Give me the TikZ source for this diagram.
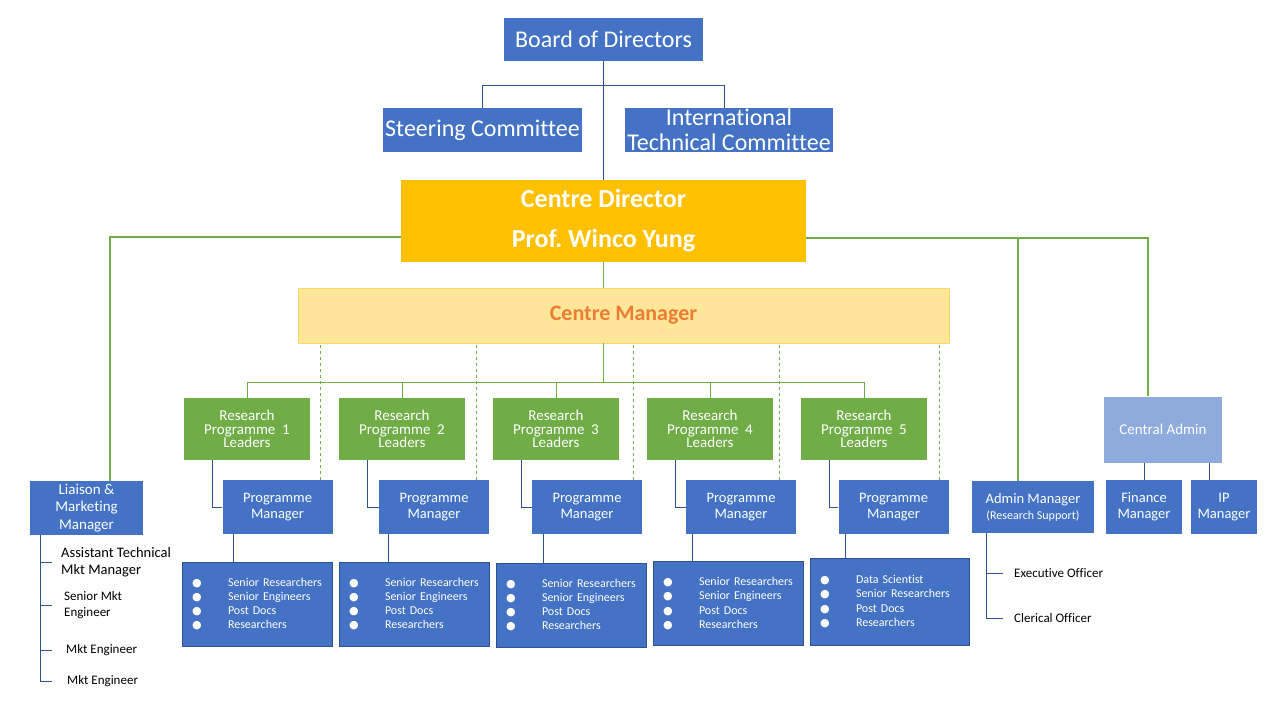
\documentclass[tikz,border=0pt]{standalone}
\usepackage{fontspec}
\setmainfont{Carlito}[Ligatures=NoCommon]
\newfontfamily\dejavu{DejaVu Sans}
\usepackage{xcolor}
\usepackage{tikz}
\usetikzlibrary{calc,positioning}
\definecolor{bluec}{HTML}{4472C4}
\definecolor{blueln}{HTML}{2F528F}
\definecolor{greenc}{HTML}{70AD47}
\definecolor{goldc}{HTML}{FFC000}
\definecolor{paleyel}{HTML}{FFE699}
\definecolor{edgeyel}{HTML}{FFD966}
\definecolor{orangec}{HTML}{ED7D31}
\definecolor{lightbl}{HTML}{8FAADC}
\frenchspacing
\newcommand{\fsz}[2]{\fontsize{#1}{#2}\selectfont}
\newcommand{\blt}{{\dejavu\fsz{11}{11}●}}
\newcommand{\stf}[1]{\makebox[36pt][l]{\blt}#1}
\tikzset{
  box/.style={fill=bluec,text=white,align=center,inner sep=0pt},
  gbox/.style={box,fill=greenc,minimum width=126pt,minimum height=62pt,font=\fsz{15}{13.5}},
  pmbox/.style={box,minimum width=110pt,minimum height=54pt,font=\fsz{14.5}{16}},
  staff/.style={box,draw=blueln,align=left,inner xsep=10pt,minimum height=84pt,font=\fsz{12}{14.3}},
  item/.style={anchor=west,align=left,inner xsep=9pt,inner ysep=0pt},
  gl/.style={greenc,line width=1.6pt},
  glt/.style={greenc,line width=1pt},
  bl/.style={blueln,line width=0.9pt},
  dl/.style={greenc,dashed,line width=0.7pt}
}

\begin{document}
\begin{tikzpicture}[x=1pt,y=-1pt]
\useasboundingbox (0,0) rectangle (1280,720);
\fill[white] (0,0) rectangle (1280,720);
\node[box,minimum width=199pt,minimum height=43pt,font=\fsz{24}{26}] (board) at (603.5,39.5) {Board of Directors};
\node[box,minimum width=199pt,minimum height=44pt,font=\fsz{24}{26}] (steer) at (482.5,130) {Steering Committee};
\node[box,minimum width=208pt,minimum height=44pt] (itc) at (729,130) {};
\node[text=white,align=center,inner sep=0pt,font=\fsz{24}{25}] (itctext) at (itc.center) {International\\Technical Committee};
\node[box,fill=goldc,minimum width=405pt,minimum height=82pt,font=\bfseries\fsz{26}{40}] (cdir) at (603.5,221) {Centre Director\\Prof. Winco Yung};
\node[box,fill=paleyel,draw=edgeyel,text=orangec,minimum width=651pt,minimum height=55pt,font=\bfseries\fsz{22}{24}] (cm) at (623.5,315.5) {Centre Manager};
\foreach \i/\x in {1/247,2/402,3/556,4/710,5/864}
  \node[gbox] (rp\i) at (\x,429) {Research\\Programme~~\i\\Leaders};
\foreach \i/\x in {1/277.5,2/434,3/587,4/741,5/893.5}
  \node[pmbox] (pm\i) at (\x,507) {Programme\\Manager};
\node[staff,text width=130pt] (st1) at (257,604) {\stf{Senior Researchers}\\\stf{Senior Engineers}\\\stf{Post Docs}\\\stf{Researchers}};
\node[staff,text width=130pt] (st2) at (414,604) {\stf{Senior Researchers}\\\stf{Senior Engineers}\\\stf{Post Docs}\\\stf{Researchers}};
\node[staff,text width=130pt] (st3) at (571,605) {\stf{Senior Researchers}\\\stf{Senior Engineers}\\\stf{Post Docs}\\\stf{Researchers}};
\node[staff,text width=130pt] (st4) at (728,603.5) {\stf{Senior Researchers}\\\stf{Senior Engineers}\\\stf{Post Docs}\\\stf{Researchers}};
\node[staff,text width=139pt,minimum height=87pt] (st5) at (889.5,601.5) {\stf{Data Scientist}\\\stf{Senior Researchers}\\\stf{Post Docs}\\\stf{Researchers}};
\node[box,minimum width=113pt,minimum height=54pt,font=\fsz{15}{17.5}] (liaison) at (86.5,508) {Liaison \&\\Marketing\\Manager};
\node[item,font=\fsz{14.5}{17}] (lm1) at (52,562.5) {Assistant Technical\\Mkt Manager};
\node[item,inner xsep=12pt,font=\fsz{13}{16}] (lm2) at (52,605) {Senior Mkt\\Engineer};
\node[item,inner xsep=14pt,font=\fsz{13}{16}] (lm3) at (52,650) {Mkt Engineer};
\node[item,inner xsep=15pt,font=\fsz{13}{16}] (lm4) at (52,681) {Mkt Engineer};
\node[box,minimum width=122pt,minimum height=52pt,font=\fsz{14.5}{16}] (admin) at (1033,507) {Admin Manager\\{\fsz{12}{16}(Research Support)}};
\node[item,inner xsep=11pt,font=\fsz{13}{16}] (ao1) at (1003,573) {Executive Officer};
\node[item,inner xsep=11pt,font=\fsz{13}{16}] (ao2) at (1003,618) {Clerical Officer};
\node[box,fill=lightbl,minimum width=118pt,minimum height=66pt,font=\fsz{15}{17}] (cadmin) at (1163,429.5) {Central Admin};
\node[box,minimum width=76pt,minimum height=54pt,font=\fsz{14.5}{16}] (fin) at (1144,507) {Finance\\Manager};
\node[box,minimum width=66pt,minimum height=54pt,font=\fsz{14.5}{16}] (ipm) at (1224,507) {IP\\Manager};
\draw[bl] (board.south) -- (cdir.north);
\draw[bl] (steer.north) -- ++(0,-22) -| ([xshift=-5pt]itc.north);
\draw[gl] ([yshift=-16pt]cdir.west) -| ([xshift=23.5pt]liaison.north);
\draw[gl] ([yshift=-17pt]cdir.east) -| ([xshift=-15pt]cadmin.north);
\draw[gl] ([xshift=-15pt]admin.north) |- ([yshift=-17pt]cdir.east);
\draw[gl] (cdir.south) -- (cdir.south |- cm.north);
\draw[glt] (cdir.south |- cm.south) -- ++(0,40);
\draw[glt] (rp1.north) -- ++(0,-15) -| (rp5.north);
\foreach \i in {2,3,4}
  \draw[glt] (rp\i.north) -- ++(0,-15);
\foreach \i/\d/\e in {1/42.5/-44.5,2/42/-46,3/46/-44,4/38/-49,5/45.5/-48.5}{
  \path ([xshift=\d pt]pm\i.north) coordinate (dt\i);
  \draw[dl] (dt\i) -- (dt\i |- cm.south);
  \draw[bl] ([xshift=-35pt]rp\i.south) |- (pm\i.west);
  \path ([xshift=\e pt]pm\i.south) coordinate (pt\i);
  \draw[bl] (pt\i) -- (pt\i |- st\i.north);
}
\coordinate (lbar) at ([xshift=-46.5pt]liaison.south);
\foreach \j in {1,...,4}
  \draw[bl] (lbar) |- (lm\j.west);
\coordinate (abar) at ([xshift=-47pt]admin.south);
\foreach \j in {1,2}
  \draw[bl] (abar) |- (ao\j.west);
\draw[bl] (fin.north) -- (fin.north |- cadmin.south);
\path ([xshift=-15pt]ipm.north) coordinate (ipt);
\draw[bl] (ipt) -- (ipt |- cadmin.south);
\end{tikzpicture}
\end{document}
